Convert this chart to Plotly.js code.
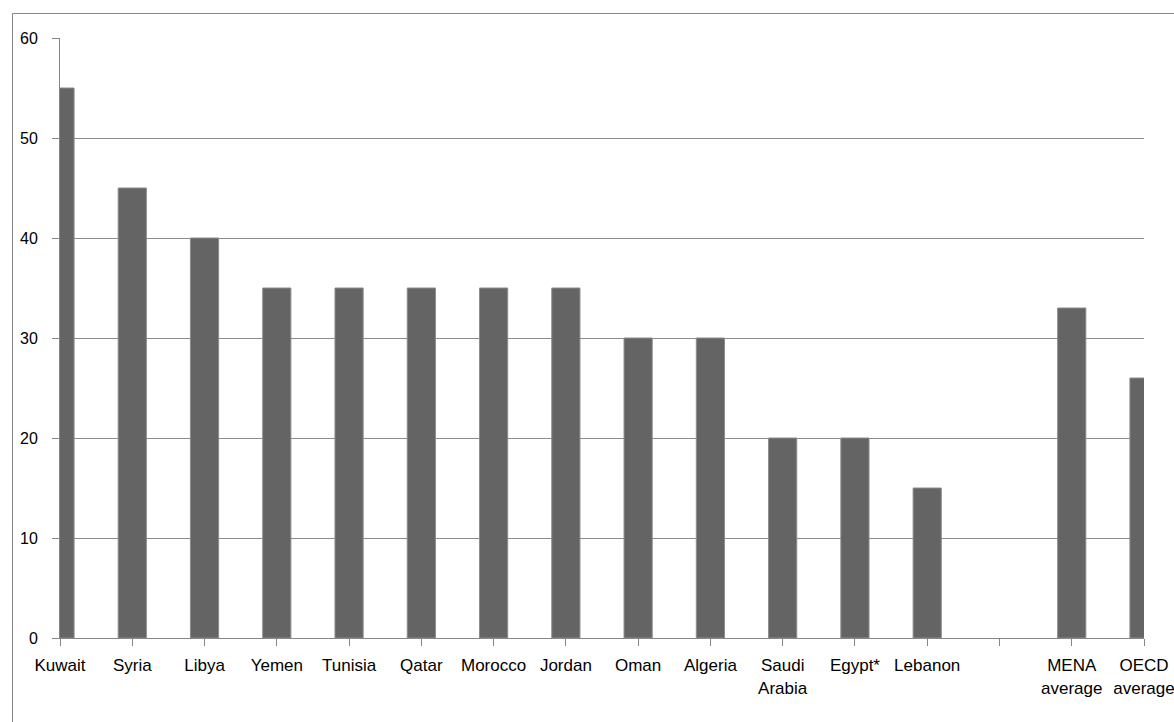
<!DOCTYPE html>
<html>
<head>
<meta charset="utf-8">
<script src="https://cdn.plot.ly/plotly-3.0.1.min.js"></script>
<style>
html,body{margin:0;padding:0;background:#fff;overflow:hidden;}
#chart{width:1174px;height:722px;}
</style>
</head>
<body>
<div id="chart"></div>
<script>
var categories = ["Kuwait","Syria","Libya","Yemen","Tunisia","Qatar","Morocco","Jordan","Oman","Algeria","Saudi<br>Arabia","Egypt*","Lebanon","","MENA<br>average","OECD<br>average"];
var values = [55,45,40,35,35,35,35,35,30,30,20,20,15,null,33,26];
var yTicks = [0,10,20,30,40,50,60];

var positions = categories.map(function(c,i){return i;});

var trace = {
  type: 'bar',
  x: positions,
  y: values,
  width: 0.39,
  marker: {color: '#646464', line: {color: '#8c8c8c', width: 1}},
  cliponaxis: true,
  hoverinfo: 'x+y'
};

var layout = {
  width: 1174,
  height: 722,
  margin: {l: 59.5, r: 29.5, t: 37.5, b: 83.5, pad: 0},
  paper_bgcolor: '#ffffff',
  plot_bgcolor: '#ffffff',
  showlegend: false,
  font: {family: '"Liberation Sans", Arial, sans-serif', size: 16, color: '#000'},
  xaxis: {
    type: 'linear',
    range: [0, 15],
    tickmode: 'array',
    tickvals: positions,
    ticktext: categories,
    showgrid: false,
    zeroline: false,
    showline: true,
    linecolor: '#868686',
    linewidth: 1,
    ticks: 'outside',
    ticklen: 7,
    tickcolor: '#868686',
    tickwidth: 1,
    tickangle: 0,
    ticklabelstandoff: 5,
    ticklabeloverflow: 'allow',
    tickfont: {size: 17, color: '#000'},
    fixedrange: true
  },
  yaxis: {
    range: [0, 60],
    tickmode: 'array',
    tickvals: yTicks,
    ticktext: yTicks.map(String),
    showgrid: true,
    gridcolor: '#8c8c8c',
    gridwidth: 1,
    zeroline: false,
    showline: true,
    linecolor: '#868686',
    linewidth: 1,
    ticks: 'outside',
    ticklen: 7,
    tickcolor: '#868686',
    tickwidth: 1,
    ticklabelstandoff: 11,
    ticklabeloverflow: 'allow',
    tickfont: {size: 16, color: '#000'},
    fixedrange: true
  },
  shapes: [
    {type: 'line', xref: 'paper', yref: 'paper', x0: -0.0438, x1: 1.05, y0: 1.0408, y1: 1.0408, line: {color: '#868686', width: 1}},
    {type: 'line', xref: 'paper', yref: 'paper', x0: -0.0438, x1: -0.0438, y0: 1.0408, y1: -0.2, line: {color: '#868686', width: 1}}
  ]
};

Plotly.newPlot('chart', [trace], layout, {displayModeBar: false, staticPlot: true});
</script>
</body>
</html>
